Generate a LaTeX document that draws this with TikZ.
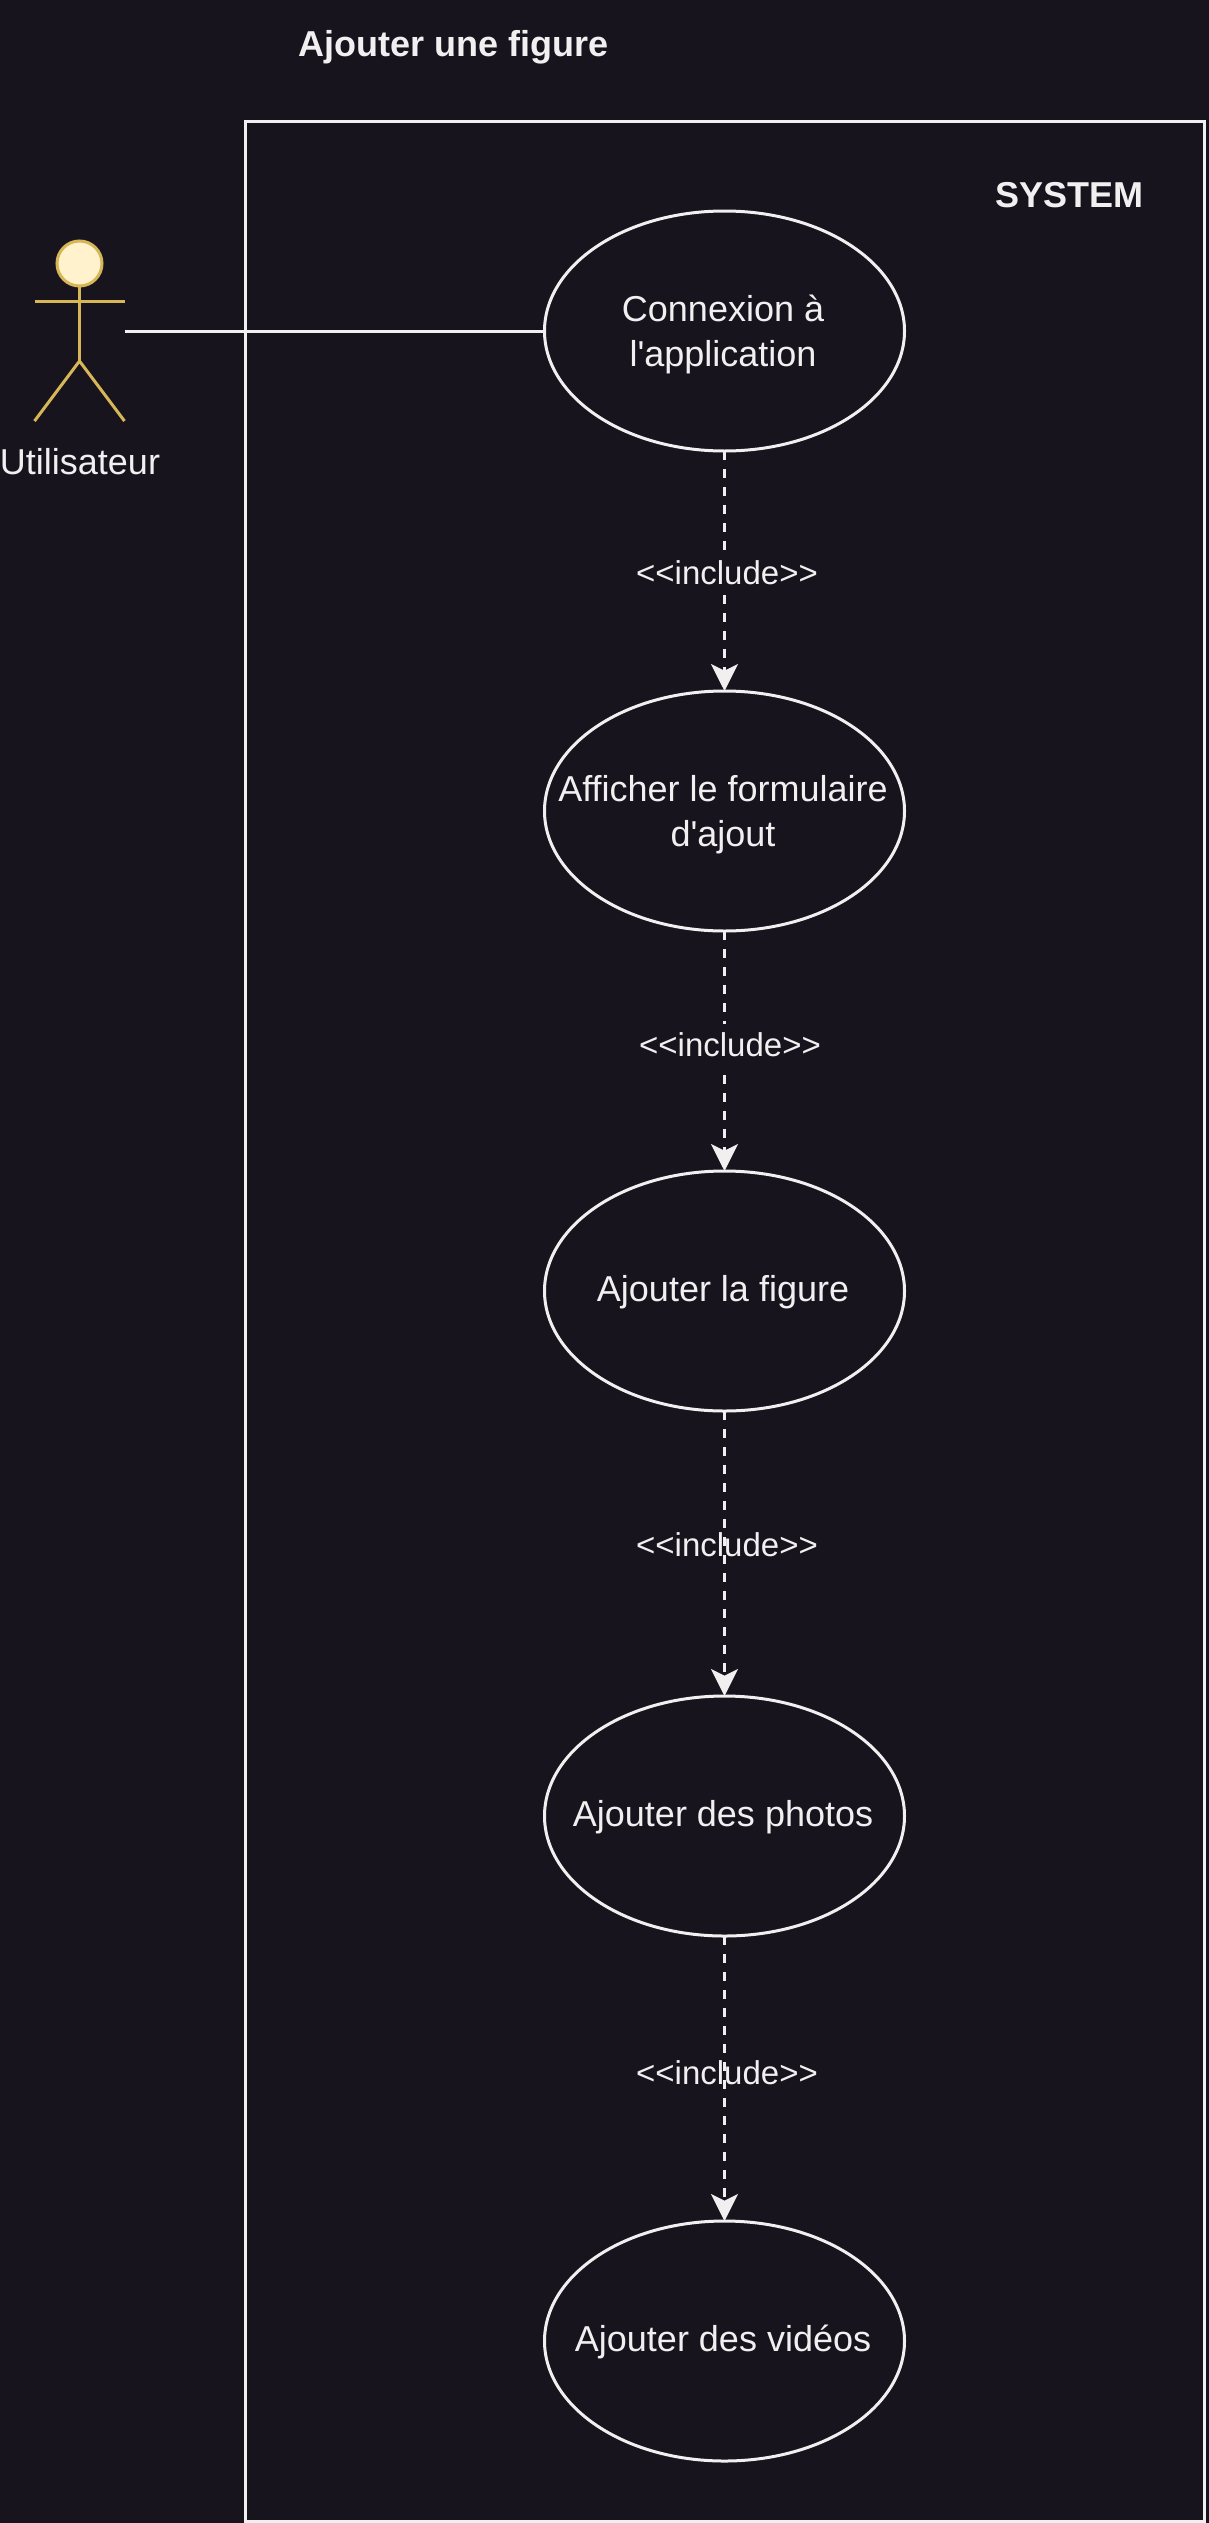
\documentclass[tikz,border=0pt]{standalone}
\usepackage{fontspec}
\setmainfont{Liberation Sans}
\usetikzlibrary{arrows.meta, positioning, shapes.geometric}
\definecolor{cdark}{HTML}{18141D}
\definecolor{cwhite}{HTML}{F0F0F0}
\definecolor{cgold}{HTML}{D6B656}
\definecolor{ccream}{HTML}{FFF2CC}
\newcommand{\lift}[1]{\rule{0pt}{#1pt}\hspace*{-2.2pt}}
\newcommand{\nudge}{\hspace*{-2.2pt}}
\tikzset{
  every picture/.style={line width=2.25pt},
  usecase/.style={ellipse, draw=cwhite, text=cwhite, align=center, minimum width=270pt, minimum height=180pt, inner xsep=-40pt, inner ysep=0pt, outer sep=0pt, font=\fontsize{27}{33.75}\selectfont},
  arrow/.style={-{Stealth[length=20.25pt, width=20.25pt, inset=5pt]}, draw=cwhite, dash pattern=on 6.75pt off 6.75pt},
  link/.style={draw=cwhite},
  stick/.style={draw=cgold, line width=2.25pt},
  title/.style={text=cwhite, font=\fontsize{27}{33.75}\selectfont\bfseries},
  note/.style={text=cwhite, font=\fontsize{27}{33.75}\selectfont},
  incl/.style={text=cwhite, inner sep=0pt, font=\fontsize{24.75}{30}\selectfont},
  inclgap/.style={incl, fill=cdark, minimum height=31pt},
}
\begin{document}
\begin{tikzpicture}[x=0.75pt, y=-0.75pt]
  \useasboundingbox (0,0) rectangle (1209,2523);
  \fill[cdark] (0,0) rectangle (1209,2523);
  \node[title] (ttl) at (454,47) {Ajouter une figure};
  % system frame
  \draw[draw=cwhite] (245,121) rectangle (1204.5,2521);
  \node[title] (sys) at (1069,195) {SYSTEM};
  % use cases
  \node[usecase] (conn) at (724.5,331) {\lift{24.6}Connexion à\\\nudge l\textquotesingle application};
  \node[usecase] (form) at (724.5,811) {\lift{24.6}Afficher le formulaire\\\nudge d\textquotesingle ajout};
  \node[usecase] (fig) at (724.5,1291) {\lift{22}Ajouter la figure};
  \node[usecase] (pho) at (724.5,1816) {\lift{22}Ajouter des photos};
  \node[usecase] (vid) at (724.5,2341) {\lift{22}Ajouter des vidéos};
  % actor
  \node[circle, draw=cgold, fill=ccream, minimum size=33.75pt, inner sep=0pt, outer sep=0pt] (head) at (79.5,263.5) {};
  \coordinate (armL) at (34.5,301);
  \coordinate (armR) at (124.5,301);
  \coordinate (hip) at (79.5,361);
  \coordinate (legL) at (34.5,421);
  \coordinate (legR) at (124.5,421);
  \coordinate (hand) at (124.5,331);
  \draw[stick] (head.south) -- (hip);
  \draw[stick] (armL) -- (armR);
  \draw[stick] (legL) -- (hip) -- (legR);
  \node[note] (usr) at (80,462) {Utilisateur};
  \draw[link] (hand) -- (conn.west);
  % includes
  \draw[arrow] (conn) -- (form);
  \draw[arrow] (form) -- (fig);
  \draw[arrow] (fig) -- (pho);
  \draw[arrow] (pho) -- (vid);
  \node[inclgap] (inc1) at (727,573) {<{}<include>{}>};
  \node[inclgap] (inc2) at (730,1045) {<{}<include>{}>};
  \node[incl] (inc3) at (727,1545) {<{}<include>{}>};
  \node[incl] (inc4) at (727,2073) {<{}<include>{}>};
\end{tikzpicture}
\end{document}
